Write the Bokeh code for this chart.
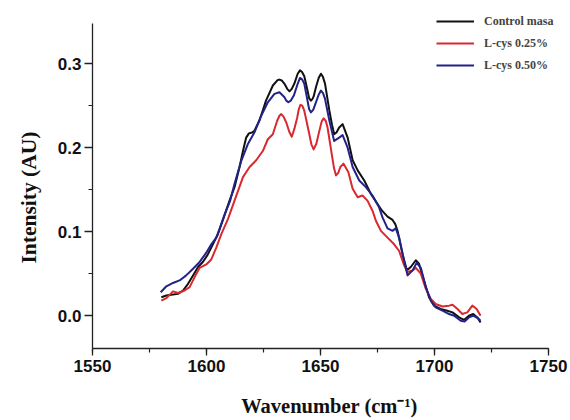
from bokeh.plotting import figure
from bokeh.models import (Range1d, SingleIntervalTicker, PrintfTickFormatter, Legend, LegendItem,
                          Title)
from bokeh.embed import file_html
from bokeh.resources import INLINE

series_labels = ["Control masa", "L-cys 0.25%", "L-cys 0.50%"]

control_x = [1580.2, 1582.4, 1584.6, 1587.5, 1589.7, 1591.9, 1594.1, 1596.3, 1598.4, 1600.6,
             1602.8, 1605.0, 1607.2, 1610.1, 1612.3, 1614.5, 1616.0, 1617.4, 1618.6, 1620.0,
             1621.0, 1623.2, 1626.1, 1629.1, 1630.7, 1631.3, 1632.0, 1633.0, 1634.2, 1635.4,
             1636.4, 1637.4, 1638.5, 1640.0, 1641.0, 1641.9, 1642.9, 1644.3, 1645.0, 1645.8,
             1646.5, 1647.0, 1648.0, 1649.2, 1650.2, 1651.1, 1652.0, 1653.9, 1655.0, 1656.0,
             1657.0, 1658.2, 1659.7, 1661.9, 1664.1, 1666.3, 1669.2, 1672.1, 1675.0, 1677.0,
             1679.4, 1681.6, 1682.8, 1683.8, 1686.0, 1687.9, 1689.6, 1691.8, 1693.2, 1695.4,
             1697.6, 1699.8, 1702.7, 1705.6, 1707.9, 1710.8, 1712.9, 1715.1, 1717.0, 1718.8,
             1720.2]
control_y = [0.022, 0.024, 0.025, 0.026, 0.030, 0.038, 0.048, 0.058, 0.064, 0.073,
             0.085, 0.097, 0.114, 0.137, 0.153, 0.177, 0.196, 0.212, 0.217, 0.218,
             0.220, 0.232, 0.256, 0.274, 0.279, 0.2805, 0.281, 0.280, 0.276, 0.270,
             0.267, 0.270, 0.276, 0.288, 0.292, 0.290, 0.285, 0.268, 0.259, 0.256,
             0.258, 0.261, 0.272, 0.283, 0.288, 0.284, 0.276, 0.244, 0.228, 0.216,
             0.218, 0.224, 0.228, 0.212, 0.185, 0.173, 0.161, 0.145, 0.133, 0.125,
             0.118, 0.114, 0.109, 0.101, 0.073, 0.054, 0.058, 0.066, 0.062, 0.042,
             0.022, 0.012, 0.008, 0.006, 0.004, -0.002, -0.005, 0.000, 0.002, -0.002,
             -0.008]

cys025_x = [1580.2, 1582.4, 1585.3, 1587.5, 1590.4, 1592.6, 1594.8, 1597.0, 1599.9, 1602.1,
            1604.3, 1606.5, 1609.4, 1612.3, 1616.0, 1618.9, 1621.8, 1624.7, 1626.9, 1629.1,
            1631.0, 1632.0, 1632.8, 1633.8, 1635.0, 1636.3, 1637.4, 1638.5, 1639.8, 1640.5,
            1641.2, 1642.0, 1642.9, 1645.1, 1646.0, 1647.0, 1648.2, 1649.5, 1650.5, 1651.4,
            1652.3, 1653.1, 1654.9, 1655.9, 1656.8, 1657.8, 1658.7, 1660.1, 1662.2, 1664.1,
            1666.3, 1668.4, 1670.6, 1672.8, 1674.3, 1676.5, 1679.4, 1682.3, 1684.5, 1686.7,
            1688.2, 1690.4, 1691.8, 1694.0, 1696.2, 1698.4, 1700.5, 1703.5, 1706.4, 1707.9,
            1710.1, 1712.2, 1714.4, 1716.6, 1718.5, 1720.2]
cys025_y = [0.018, 0.021, 0.029, 0.027, 0.030, 0.034, 0.046, 0.057, 0.061, 0.067,
            0.081, 0.097, 0.115, 0.137, 0.165, 0.177, 0.185, 0.196, 0.210, 0.216,
            0.232, 0.238, 0.240, 0.237, 0.230, 0.219, 0.213, 0.222, 0.236, 0.246,
            0.251, 0.250, 0.244, 0.216, 0.204, 0.198, 0.205, 0.220, 0.231, 0.235,
            0.232, 0.224, 0.193, 0.176, 0.167, 0.170, 0.177, 0.181, 0.171, 0.151,
            0.141, 0.143, 0.137, 0.125, 0.113, 0.101, 0.093, 0.085, 0.077, 0.060,
            0.052, 0.054, 0.057, 0.050, 0.032, 0.020, 0.014, 0.011, 0.012, 0.013,
            0.008, 0.002, 0.004, 0.012, 0.008, 0.000]

cys050_x = [1579.9, 1582.4, 1585.3, 1588.2, 1591.1, 1594.1, 1597.0, 1599.9, 1602.1, 1604.3,
            1605.8, 1607.9, 1610.4, 1612.3, 1615.2, 1618.1, 1621.0, 1624.0, 1626.9, 1629.8,
            1632.0, 1634.2, 1635.0, 1635.9, 1637.0, 1638.3, 1640.0, 1641.0, 1642.0, 1642.9,
            1644.3, 1645.0, 1645.8, 1646.8, 1648.0, 1649.2, 1650.2, 1651.1, 1652.0, 1653.9,
            1656.0, 1658.2, 1659.7, 1661.9, 1664.1, 1667.0, 1669.9, 1672.8, 1675.7, 1677.2,
            1679.4, 1681.6, 1683.0, 1684.5, 1686.7, 1688.2, 1690.4, 1692.2, 1694.0, 1696.2,
            1698.4, 1700.5, 1703.5, 1706.4, 1708.6, 1711.5, 1713.2, 1715.1, 1717.0, 1719.1,
            1720.2]
cys050_y = [0.028, 0.035, 0.039, 0.042, 0.048, 0.056, 0.064, 0.075, 0.085, 0.093,
            0.104, 0.120, 0.137, 0.157, 0.184, 0.204, 0.218, 0.238, 0.254, 0.264,
            0.266, 0.260, 0.256, 0.254, 0.256, 0.262, 0.276, 0.283, 0.281, 0.276,
            0.256, 0.246, 0.242, 0.245, 0.254, 0.263, 0.268, 0.265, 0.258, 0.232,
            0.208, 0.212, 0.215, 0.200, 0.177, 0.161, 0.153, 0.143, 0.129, 0.117,
            0.104, 0.101, 0.104, 0.093, 0.065, 0.048, 0.054, 0.063, 0.057, 0.034,
            0.018, 0.010, 0.006, 0.002, 0.000, -0.006, -0.007, -0.002, 0.000, -0.003,
            -0.006]

p = figure(width=570, height=420, output_backend="svg", toolbar_location=None,
           x_range=Range1d(1550, 1757.9), y_range=Range1d(-0.039, 0.368),
           min_border_left=91, min_border_right=4, min_border_top=6, min_border_bottom=72)
p.outline_line_color = None
p.xgrid.grid_line_color = None
p.ygrid.grid_line_color = None
p.background_fill_color = "white"

r_ctrl = p.line(control_x, control_y, line_color="#111111", line_width=2, line_join="round")
r_025 = p.line(cys025_x, cys025_y, line_color="#d8292f", line_width=2, line_join="round")
r_050 = p.line(cys050_x, cys050_y, line_color="#22228a", line_width=2, line_join="round")

p.xaxis.ticker = SingleIntervalTicker(interval=50, num_minor_ticks=2)
p.yaxis.ticker = SingleIntervalTicker(interval=0.1, num_minor_ticks=2)
p.yaxis.formatter = PrintfTickFormatter(format="%.1f")
p.yaxis.bounds = (-0.039, 0.348)
p.xaxis.bounds = (1550, 1750)

for ax in (p.xaxis[0], p.yaxis[0]):
    ax.axis_line_color = "#222222"
    ax.axis_line_width = 1.3
    ax.major_tick_line_color = "#222222"
    ax.major_tick_line_width = 1.3
    ax.minor_tick_line_color = "#222222"
    ax.minor_tick_line_width = 1.2
    ax.major_tick_in = 0
    ax.minor_tick_in = 0
    ax.minor_tick_out = 4
    ax.major_label_text_font = "Liberation Sans"
    ax.major_label_text_font_style = "bold"
    ax.major_label_text_font_size = "17px"
    ax.major_label_text_color = "#111111"
    ax.axis_label_text_font = "Liberation Serif"
    ax.axis_label_text_font_style = "bold"
    ax.axis_label_text_font_size = "20.5px"
    ax.axis_label_text_color = "#111111"

p.xaxis.major_tick_out = 7
p.yaxis.major_tick_out = 8
p.xaxis.major_label_standoff = 4
p.yaxis.major_label_standoff = 3
p.xaxis.axis_label = "Wavenumber (cm\u207b\u00b9)"
p.xaxis.axis_label_standoff = 20

ytitle = Title(text="Intensity (AU)", align="left", offset=85, standoff=28,
               text_font="Liberation Serif", text_font_style="bold",
               text_font_size="21.5px", text_color="#111111")
p.add_layout(ytitle, "left")

legend = Legend(items=[LegendItem(label=series_labels[0], renderers=[r_ctrl]),
                       LegendItem(label=series_labels[1], renderers=[r_025]),
                       LegendItem(label=series_labels[2], renderers=[r_050])],
                location=(344, 273), border_line_color=None, background_fill_alpha=0,
                label_text_font="Liberation Serif", label_text_font_style="bold",
                label_text_font_size="12px", glyph_width=38, glyph_height=20,
                label_height=20, spacing=2, padding=0, margin=0, label_standoff=10)
p.add_layout(legend)

open("out.html", "w").write(file_html(p, INLINE))
